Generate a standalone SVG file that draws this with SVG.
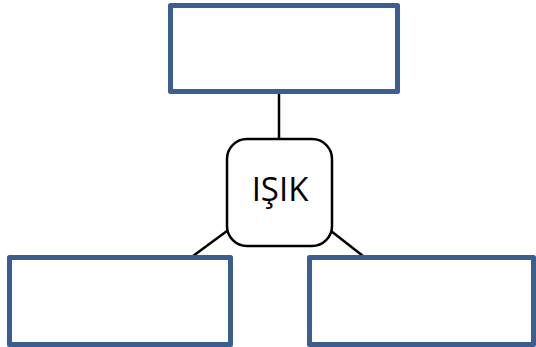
<svg xmlns="http://www.w3.org/2000/svg" width="536" height="347" viewBox="0 0 536 347">
<style>
.box{fill:#fff;stroke:#3B5E8E;stroke-width:5;stroke-linejoin:round}
.center{fill:#fff;stroke:#000;stroke-width:2.5}
.conn{stroke:#000;stroke-width:2.5;fill:none}
.lbl{font-family:"Open Sans","Noto Sans",sans-serif;font-size:33px;fill:#000}
</style>
<rect width="536" height="347" fill="#fff"/>
<g id="connectors">
<line class="conn" x1="279" y1="94" x2="279" y2="139"/>
<line class="conn" x1="227" y1="231" x2="193" y2="256"/>
<line class="conn" x1="331" y1="231" x2="363" y2="256"/>
</g>
<g id="node-top"><rect class="box" x="170.5" y="5.5" width="227" height="86"/></g>
<g id="node-center">
<rect class="center" x="227" y="139" width="105" height="107" rx="20" ry="20"/>
<text class="lbl" x="280" y="201" text-anchor="middle">IŞIK</text>
</g>
<g id="node-left"><rect class="box" x="9.5" y="257.5" width="221" height="87"/></g>
<g id="node-right"><rect class="box" x="309.5" y="257.5" width="224" height="87"/></g>
</svg>
